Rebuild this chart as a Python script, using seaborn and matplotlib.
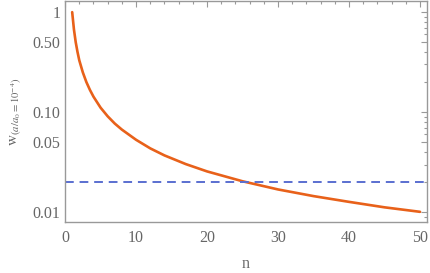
import numpy as np
import pandas as pd
import seaborn as sns
import matplotlib.pyplot as plt
from matplotlib.ticker import FixedLocator, MultipleLocator, LogLocator, NullFormatter

# values
n_vals = [1, 1.25, 1.5, 1.75, 2, 2.5, 3, 3.5, 4, 5, 6, 7, 8, 10, 12, 14, 17, 20,
          25, 30, 35, 40, 45, 50]
w_vals = [1.0, 0.67, 0.50, 0.40, 0.33, 0.25, 0.20, 0.167, 0.143, 0.111, 0.091,
          0.077, 0.067, 0.053, 0.0435, 0.037, 0.0303, 0.0256, 0.0204, 0.0169,
          0.0145, 0.0127, 0.0112, 0.0101]
threshold = 0.02
x_ticks = [0, 10, 20, 30, 40, 50]
y_ticks = [0.01, 0.05, 0.10, 0.50, 1]
y_tick_labels = ["0.01", "0.05", "0.10", "0.50", "1"]

df = pd.DataFrame({"n": n_vals, "w": w_vals})

sns.set_style("white")
plt.rcParams['font.family'] = ['Liberation Serif', 'DejaVu Serif']
plt.rcParams['mathtext.fontset'] = 'stix'

grey = '#666666'
fig = plt.figure(figsize=(4.31, 2.73), dpi=100)
ax = fig.add_axes([0.151, 0.188, 0.840, 0.808])

sns.lineplot(data=df, x="n", y="w", color='#E8611A', linewidth=1.9, ax=ax)
ax.axhline(threshold, color='#5A6FD0', linewidth=1.4, linestyle=(0, (4.5, 3)))

ax.set_yscale('log')
ax.set_xlim(0, 51)
ax.set_ylim(0.00805, 1.29)

ax.xaxis.set_major_locator(FixedLocator(x_ticks))
ax.xaxis.set_minor_locator(MultipleLocator(2))
ax.yaxis.set_major_locator(FixedLocator(y_ticks))
ax.yaxis.set_minor_locator(LogLocator(base=10, subs=np.arange(2, 10)))
ax.yaxis.set_minor_formatter(NullFormatter())
ax.set_yticklabels(y_tick_labels)

ax.tick_params(which='both', direction='in', top=True, right=True, color='#999999',
               labelcolor=grey, labelsize=11.5, width=0.8)
ax.tick_params(which='major', length=4.5)
ax.tick_params(which='minor', length=2.5)
ax.tick_params(axis='x', pad=6)

for s in ax.spines.values():
    s.set_color('#999999')
    s.set_linewidth(1.0)

ax.set_xlabel("n", color=grey, fontsize=11.5, labelpad=7.5)
ax.set_ylabel(r"$\mathrm{w}_{(a/a_0=10^{-4})}$", color=grey, fontsize=11, labelpad=7)

fig.savefig("out.png", dpi=100)
